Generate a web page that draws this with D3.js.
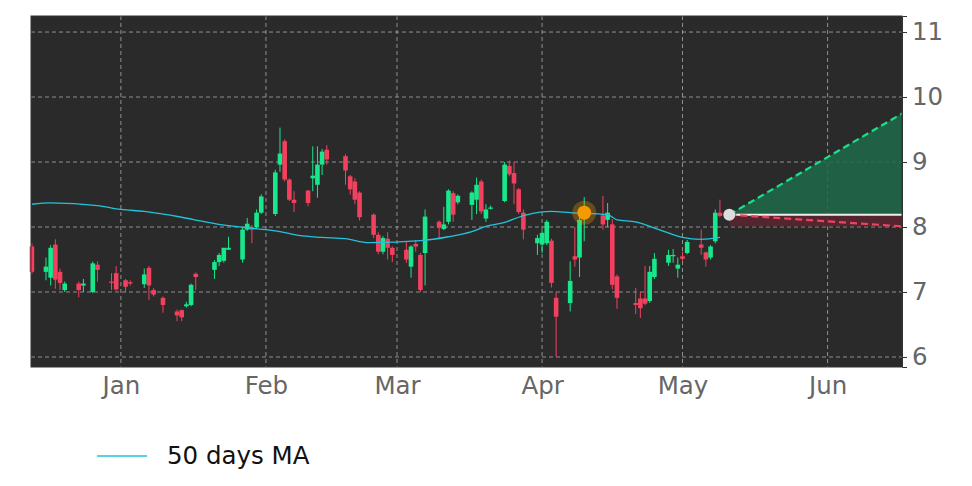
<!DOCTYPE html>
<html><head><meta charset="utf-8">
<script src="https://cdn.jsdelivr.net/npm/d3@7"></script>
<style>body{margin:0;background:#fff;font-family:"DejaVu Sans",sans-serif}</style>
</head><body><svg id="c" width="972" height="486"></svg>
<script>
// days since 2023-01-01
const days = [-19,-16,-15,-14,-13,-12,-9,-8,-6,-5,-2,-1,1,2,5,6,7,9,12,13,14,15,16,20,21,22,23,26,27,28,29,30,33,34,35,36,37,40,41,42,43,44,48,49,50,51,54,55,56,57,58,61,62,63,64,65,68,69,70,71,72,75,76,77,78,79,82,83,84,85,86,89,90,91,92,93,96,97,98,99,103,104,105,106,110,111,112,113,114,117,118,119,120,121,124,125,126,127,128];
const open  = [7.70,7.31,7.22,7.73,7.31,7.03,7.13,7.10,7.00,7.42,7.16,7.29,7.18,7.15,7.12,7.37,7.03,6.91,6.70,6.72,6.78,6.80,7.28,7.34,7.46,7.48,7.65,7.50,7.96,8.00,8.00,8.22,8.20,8.96,9.32,8.73,8.42,8.56,8.75,8.65,8.96,9.19,9.09,8.78,8.70,8.53,8.19,7.88,7.62,7.82,7.68,7.65,7.39,7.74,7.57,7.60,8.08,7.97,8.08,8.52,8.38,8.34,8.42,8.70,8.13,8.28,8.40,8.94,8.83,8.58,8.22,7.75,7.73,7.75,7.79,6.91,6.83,7.55,7.53,8.20,8.18,8.11,8.04,7.24,6.83,6.90,6.90,6.86,7.23,7.45,7.55,7.36,7.55,7.60,7.73,7.61,7.53,7.78,8.22];
const high  = [7.75,7.53,7.72,7.81,7.36,7.16,7.16,7.20,7.47,7.47,7.29,7.40,7.20,7.18,7.36,7.40,7.06,6.93,6.73,6.73,6.85,7.13,7.30,7.49,7.60,7.68,7.85,8.00,8.14,8.03,8.27,8.50,8.88,9.53,9.35,8.75,8.55,8.57,9.24,9.24,9.20,9.26,9.12,8.80,8.75,8.55,8.21,7.92,7.86,7.92,7.70,7.78,7.72,7.80,7.60,8.27,8.10,8.31,8.58,8.55,8.50,8.55,8.76,8.73,8.35,8.33,9.00,9.02,9.00,8.60,8.27,7.88,7.95,8.11,7.82,7.00,7.47,8.00,8.30,8.46,8.48,8.37,8.12,7.27,7.06,7.00,7.40,7.40,7.60,7.65,7.66,7.53,7.62,7.80,7.96,7.62,7.72,8.27,8.42];
const low   = [7.28,7.18,7.10,7.05,7.03,7.00,6.92,7.00,6.98,7.16,7.03,7.02,7.00,7.10,7.06,6.88,6.93,6.68,6.55,6.55,6.76,6.78,7.03,7.20,7.40,7.45,7.65,7.45,7.94,7.75,7.98,8.20,8.17,8.85,8.70,8.40,8.23,8.32,8.55,8.45,8.80,8.96,8.65,8.50,8.35,8.10,7.83,7.58,7.58,7.50,7.46,7.45,7.22,7.62,7.00,7.10,7.81,7.95,8.04,8.08,8.35,8.11,8.20,8.20,8.08,8.27,8.38,8.78,8.35,8.20,7.81,7.57,7.60,7.72,7.07,6.00,6.70,7.39,7.23,7.78,7.96,8.00,7.04,6.74,6.66,6.60,6.80,6.83,7.20,7.40,7.45,7.22,7.48,7.58,7.57,7.39,7.50,7.75,8.15];
const close = [7.31,7.39,7.68,7.19,7.14,7.13,7.03,7.13,7.44,7.34,7.14,7.04,7.08,7.13,7.27,7.10,6.96,6.80,6.64,6.61,6.81,7.11,7.23,7.46,7.57,7.68,7.68,7.96,8.05,7.96,8.22,8.47,8.84,9.13,8.73,8.42,8.37,8.37,8.79,8.96,9.16,9.04,8.87,8.58,8.42,8.15,7.88,7.62,7.83,7.68,7.57,7.50,7.70,7.70,7.03,8.16,7.99,8.04,8.56,8.19,8.48,8.53,8.65,8.24,8.27,8.30,8.96,8.81,8.67,8.23,7.96,7.83,7.91,8.08,7.14,6.62,7.17,7.50,8.11,8.22,8.04,8.22,7.11,6.91,6.80,6.75,6.82,7.31,7.51,7.57,7.57,7.42,7.51,7.77,7.68,7.50,7.70,8.22,8.17];
const maDays = [-19,-15,-5,0,5,13,18,23,28,31,34,38,43,48,53,64,70,75,78,82,85,88,92,96,104,106,110,115,120,124,128];
const maVals = [8.35,8.37,8.33,8.27,8.24,8.15,8.08,8.02,7.98,7.96,7.93,7.87,7.84,7.82,7.76,7.79,7.85,7.93,8.01,8.07,8.15,8.21,8.24,8.22,8.19,8.11,8.08,7.96,7.84,7.81,7.84];
const signalDay = 99, signalVal = 8.22;
const forecastDays = [130, 167];
const forecastBase = 8.19, forecastHigh = 9.75, forecastLow = 8.01;
const yTicks = [6,7,8,9,10,11];
const monthTicks = ["2023-01-01","2023-02-01","2023-03-01","2023-04-01","2023-05-01","2023-06-01"];

const base = new Date(2023,0,1);
const toDate = d => new Date(base.getTime() + d*86400000);
const svg = d3.select("#c");
const L=31,R=902,T=16,B=367;
const x = d3.scaleTime().domain([toDate(-19.2), toDate(166.9)]).range([L,R]);
const y = d3.scaleLinear().domain([6 - 10/64.8, 11 + 16/64.8]).range([B,T]);
svg.append("rect").attr("x",L).attr("y",T).attr("width",R-L).attr("height",B-T).attr("fill","#2a2a2a");
const mt = monthTicks.map(s=>{const p=s.split("-");return new Date(+p[0],+p[1]-1,+p[2]);});
const g = svg.append("g");
g.selectAll(".vg").data(mt).join("line").attr("x1",d=>x(d)).attr("x2",d=>x(d)).attr("y1",T).attr("y2",B)
 .attr("stroke","#aaa").attr("stroke-width",0.8).attr("stroke-dasharray","4,3");
g.selectAll(".hg").data(yTicks).join("line").attr("x1",L).attr("x2",R).attr("y1",d=>y(d)).attr("y2",d=>y(d))
 .attr("stroke","#aaa").attr("stroke-width",0.8).attr("stroke-dasharray","4,3");

const x0 = x(toDate(forecastDays[0])), x1 = x(toDate(forecastDays[1]));
svg.append("path").attr("d",`M${x0},${y(forecastBase)}L${x1},${y(forecastHigh)}L${x1},${y(forecastBase)}Z`).attr("fill","#1f6b4a").attr("opacity",0.85);
svg.append("path").attr("d",`M${x0},${y(forecastBase)}L${x1},${y(forecastBase)}L${x1},${y(forecastLow)}L${x0},${y(forecastLow)}Z`).attr("fill","#5a2530").attr("opacity",0.85);

const w = 4.6;
const cd = days.map((d,i)=>({d,o:open[i],h:high[i],l:low[i],c:close[i]}));
const col = d => d.c>=d.o ? "#18e88c" : "#f2405e";
svg.append("g").selectAll("line").data(cd).join("line")
 .attr("x1",d=>x(toDate(d.d))).attr("x2",d=>x(toDate(d.d))).attr("y1",d=>y(d.h)).attr("y2",d=>y(d.l))
 .attr("stroke",col).attr("stroke-width",1);
svg.append("g").selectAll("rect").data(cd).join("rect")
 .attr("x",d=>x(toDate(d.d))-w/2).attr("width",w)
 .attr("y",d=>y(Math.max(d.o,d.c))).attr("height",d=>Math.max(1.2,Math.abs(y(d.o)-y(d.c))))
 .attr("fill",col);

svg.append("path").datum(maDays.map((d,i)=>[d,maVals[i]]))
 .attr("d",d3.line().x(d=>x(toDate(d[0]))).y(d=>y(d[1])).curve(d3.curveMonotoneX))
 .attr("fill","none").attr("stroke","#22c4dc").attr("stroke-width",1.3);

svg.append("line").attr("x1",x0).attr("x2",x1).attr("y1",y(forecastBase)).attr("y2",y(forecastBase)).attr("stroke","#eee").attr("stroke-width",2);
svg.append("line").attr("x1",x0).attr("x2",x1).attr("y1",y(forecastBase)).attr("y2",y(forecastHigh)).attr("stroke","#19e08c").attr("stroke-width",2.2).attr("stroke-dasharray","7,4");
svg.append("line").attr("x1",x0).attr("x2",x1).attr("y1",y(forecastBase)).attr("y2",y(forecastLow)).attr("stroke","#f2405e").attr("stroke-width",2.2).attr("stroke-dasharray","7,4");
svg.append("circle").attr("cx",x0).attr("cy",y(forecastBase)).attr("r",6).attr("fill","#ddd");

svg.append("circle").attr("cx",x(toDate(signalDay))).attr("cy",y(signalVal)).attr("r",12).attr("fill","#f59a00").attr("opacity",0.3);
svg.append("circle").attr("cx",x(toDate(signalDay))).attr("cy",y(signalVal)).attr("r",7).attr("fill","#f59a00");

const ya = svg.append("g").attr("transform",`translate(${R},0)`).call(d3.axisRight(y).tickValues(yTicks).tickSize(5).tickPadding(5).tickFormat(d3.format("d")));
ya.selectAll("text").attr("font-size",24.5).attr("fill","#666").attr("font-family","DejaVu Sans");
const xa = svg.append("g").attr("transform",`translate(0,${B})`).call(d3.axisBottom(x).tickValues(mt).tickSize(0).tickPadding(10).tickFormat(d3.timeFormat("%b")));
xa.selectAll("text").attr("font-size",24.5).attr("fill","#666").attr("font-family","DejaVu Sans");
xa.select(".domain").remove(); ya.select(".domain").attr("stroke","#333");
ya.selectAll(".tick line").attr("stroke","#333");
svg.append("rect").attr("x",L).attr("y",T).attr("width",R-L).attr("height",B-T).attr("fill","none").attr("stroke","#333").attr("stroke-width",1);

svg.append("line").attr("x1",97).attr("x2",147).attr("y1",456).attr("y2",456).attr("stroke","#22c4dc").attr("stroke-width",1.3);
svg.append("text").attr("x",167).attr("y",464).attr("font-size",24.5).attr("fill","#111").text("50 days MA");
</script></body></html>
